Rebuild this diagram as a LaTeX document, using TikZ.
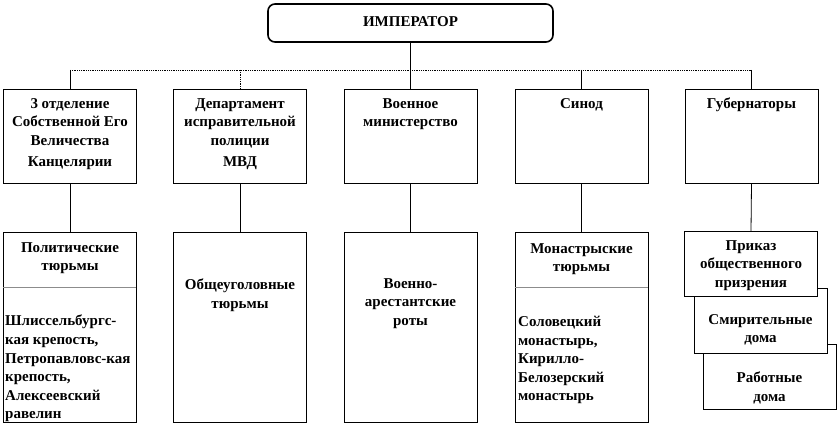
\documentclass[tikz,border=0pt]{standalone}
\usepackage{fontspec}
\setmainfont{Liberation Serif}
\begin{document}
\begin{tikzpicture}
[
 x=1pt, y=-1pt,
 inner sep=0pt,
 IMPBOX/.style={rectangle, rounded corners=7pt, draw=black, line width=1.6pt, minimum width=285pt, minimum height=38pt},
 UNIT/.style={rectangle, draw=black, fill=white, line width=0.8pt, minimum width=133pt, minimum height=94pt},
 PRISON/.style={rectangle, draw=black, fill=white, line width=0.8pt, minimum width=133pt, minimum height=190pt},
 CARE/.style={rectangle, draw=black, fill=white, line width=0.8pt, minimum width=133pt, minimum height=65pt},
 TXT/.style={align=center, anchor=north, font=\fontsize{15}{18.6}\selectfont\bfseries},
 LTXT/.style={align=left, anchor=north west, font=\fontsize{15}{18.6}\selectfont\bfseries},
 LINK/.style={draw=black, line width=0.8pt},
 BUS/.style={draw=black, line width=0.8pt, densely dotted},
 DIV/.style={draw=black!45, line width=1.4pt},
 ]
%
\useasboundingbox (0,0) rectangle (840,425);
%
\node [IMPBOX]  (IMP)   at ( 410.5, 23)  {};
\node [TXT]     (IMPt)  at ( 410.5, 16)  {ИМПЕРАТОР};
%
\node [UNIT]  (OTD)   at ( 70, 136)  {};
\node [UNIT]  (DEP)   at ( 240, 136)  {};
\node [UNIT]  (VOEN)  at ( 410.5, 136)  {};
\node [UNIT]  (SIN)   at ( 581.5, 136)  {};
\node [UNIT]  (GUB)   at ( 751.5, 136)  {};
%
\node [TXT]  (OTDt)   at ( 70, 98)  {3 отделение\\Собственной Его\\Величества\\[3pt]Канцелярии};
\node [TXT]  (DEPt)   at ( 240, 98)  {Департамент\\исправительной\\полиции\\[3pt]МВД};
\node [TXT]  (VOENt)  at ( 410.5, 98)  {Военное\\министерство};
\node [TXT]  (SINt)   at ( 581.5, 98)  {Синод};
\node [TXT]  (GUBt)   at ( 751.5, 98)  {Губернаторы};
%
\node [PRISON]  (POL)  at ( 70, 327)  {};
\node [PRISON]  (OBS)  at ( 240, 327)  {};
\node [PRISON]  (ARE)  at ( 410.5, 327)  {};
\node [PRISON]  (MON)  at ( 581.5, 327)  {};
%
\node [CARE]  (RAB)  at ( 769.5, 376.5)  {};
\node [CARE]  (SMI)  at ( 760.5, 320.5)  {};
\node [CARE]  (PRI)  at ( 751, 264)  {};
%
\draw [DIV]  (POL.north west) ++(0,56) -- ++(133,0);
\draw [DIV]  (MON.north west) ++(0,56) -- ++(133,0);
%
\node [TXT]   (POLt)  at ( 70, 242)  {Политические\\тюрьмы};
\node [LTXT]  (POLl)  at ( 5, 315)  {Шлиссельбургс-\\кая крепость,\\Петропавловс-кая\\крепость,\\Алексеевский\\равелин};
\node [TXT]   (OBSt)  at ( 240, 279)  {Общеуголовные\\тюрьмы};
\node [TXT]   (AREt)  at ( 410.5, 278)  {Военно-\\арестантские\\роты};
\node [TXT]   (MONt)  at ( 581.5, 243)  {Монастрыские\\тюрьмы};
\node [LTXT]  (MONl)  at ( 518, 316)  {Соловецкий\\монастырь,\\Кирилло-\\Белозерский\\монастырь};
\node [TXT]   (PRIt)  at ( 751, 240)  {Приказ\\общественного\\призрения};
\node [TXT]   (SMIt)  at ( 760.5, 314)  {Смирительные\\дома};
\node [TXT]   (RABt)  at ( 769.5, 372)  {Работные\\дома};
%
\coordinate (J1) at ( 70, 70);
\coordinate (J2) at ( 240, 70);
\coordinate (J4) at ( 581.5, 70);
\coordinate (J5) at ( 751.5, 70);
%
\draw [BUS]   (J1) -- (J5);
\draw [LINK]  (IMP.south) -- (VOEN.north);
\draw [LINK]  (J1) -- (OTD.north);
\draw [BUS]   (J2) -- (DEP.north);
\draw [LINK]  (J4) -- (SIN.north);
\draw [LINK]  (J5) -- (GUB.north);
%
\draw [LINK]  (OTD.south)  -- (POL.north);
\draw [LINK]  (DEP.south)  -- (OBS.north);
\draw [LINK]  (VOEN.south) -- (ARE.north);
\draw [LINK]  (SIN.south)  -- (MON.north);
\draw [LINK]  (GUB.south)  -- (PRI.north);
%
\end{tikzpicture}
\end{document}
